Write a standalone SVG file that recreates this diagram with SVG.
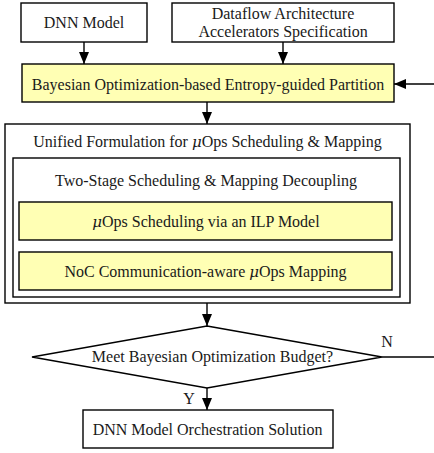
<svg xmlns="http://www.w3.org/2000/svg" width="434" height="453" viewBox="0 0 434 453">
  <style>
    .box { fill: #ffffff; stroke: #000000; stroke-width: 1.4; }
    .hl { fill: #ffffb4; stroke: #000000; stroke-width: 1.4; }
    .t { font-family: "Liberation Serif", "Times New Roman", serif; font-size: 16px; fill: #1a1a1a; text-anchor: middle; }
    .mu { font-style: italic; font-family: "DejaVu Serif", serif; font-size: 15px; }
    .ln { stroke: #000000; stroke-width: 1.4; fill: none; }
  </style>
  <defs>
    <marker id="arrow" viewBox="0 0 12 10" refX="12" refY="5" markerWidth="12" markerHeight="10" markerUnits="userSpaceOnUse" orient="auto">
      <path d="M0,0 L12,5 L0,10 Z" fill="#000000"/>
    </marker>
  </defs>

  <!-- connectors -->
  <g id="connectors">
    <line class="ln" x1="84" y1="42" x2="84" y2="64" marker-end="url(#arrow)"/>
    <line class="ln" x1="283" y1="42" x2="283" y2="64" marker-end="url(#arrow)"/>
    <line class="ln" x1="434" y1="84" x2="394" y2="84" marker-end="url(#arrow)"/>
    <line class="ln" x1="207" y1="102" x2="207" y2="124" marker-end="url(#arrow)"/>
    <line class="ln" x1="207" y1="303" x2="207" y2="326" marker-end="url(#arrow)"/>
    <line class="ln" x1="382" y1="357" x2="434" y2="357"/>
    <line class="ln" x1="207" y1="388" x2="207" y2="410" marker-end="url(#arrow)"/>
    <text class="t" x="387" y="347">N</text>
    <text class="t" x="189" y="404">Y</text>
  </g>

  <g id="dnn-model">
    <rect class="box" x="21" y="3" width="126" height="39"/>
    <text class="t" x="84" y="28">DNN Model</text>
  </g>

  <g id="accelerator-spec">
    <rect class="box" x="172" y="3" width="222" height="39"/>
    <text class="t" x="283" y="18.5">Dataflow Architecture</text>
    <text class="t" x="283" y="36.5">Accelerators Specification</text>
  </g>

  <g id="partition">
    <rect class="hl" x="22" y="64" width="372" height="38"/>
    <text class="t" x="208" y="90">Bayesian Optimization-based Entropy-guided Partition</text>
  </g>

  <g id="unified-formulation">
    <rect class="box" x="5" y="124" width="405" height="179"/>
    <text class="t" x="207.5" y="147">Unified Formulation for <tspan class="mu">μ</tspan>Ops Scheduling &amp; Mapping</text>
  </g>

  <g id="two-stage">
    <rect class="box" x="13" y="158" width="387" height="139"/>
    <text class="t" x="206" y="186">Two-Stage Scheduling &amp; Mapping Decoupling</text>
  </g>

  <g id="ilp-scheduling">
    <rect class="hl" x="19" y="202" width="373" height="38"/>
    <text class="t" x="206" y="227"><tspan class="mu">μ</tspan>Ops Scheduling via an ILP Model</text>
  </g>

  <g id="noc-mapping">
    <rect class="hl" x="19" y="252" width="373" height="38"/>
    <text class="t" x="205.5" y="277">NoC Communication-aware <tspan class="mu">μ</tspan>Ops Mapping</text>
  </g>

  <g id="budget-check">
    <polygon class="box" points="207,326 382,357 207,388 32,357"/>
    <text class="t" x="212.5" y="362">Meet Bayesian Optimization Budget?</text>
  </g>

  <g id="solution">
    <rect class="box" x="83" y="410" width="250" height="38"/>
    <text class="t" x="207.5" y="435">DNN Model Orchestration Solution</text>
  </g>
</svg>
